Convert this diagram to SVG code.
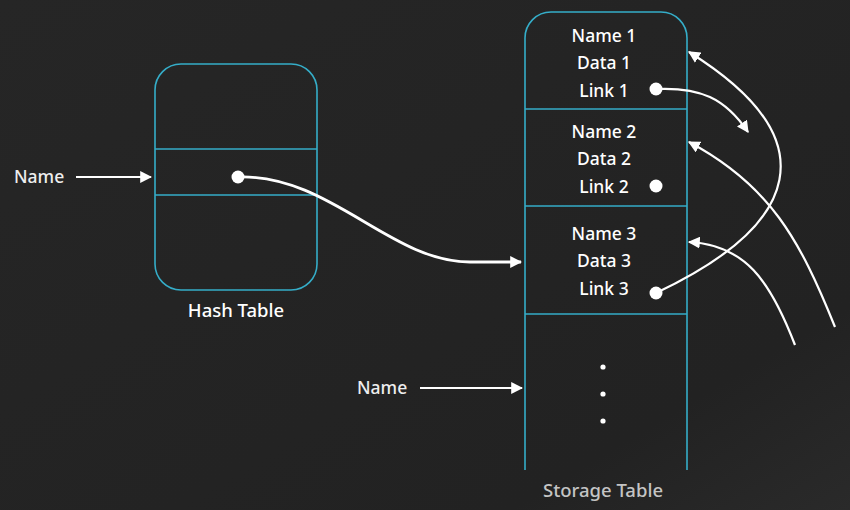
<svg xmlns="http://www.w3.org/2000/svg" width="850" height="510" viewBox="0 0 850 510">
<style>
.box{fill:none;stroke:#35adc8;stroke-width:1.6}
.t{font-family:"Noto Sans","Liberation Sans",sans-serif;font-size:17.5px;font-weight:500;fill:#ffffff;text-anchor:middle}
.lbl{font-family:"Noto Sans","Liberation Sans",sans-serif;font-size:17.5px;font-weight:500;fill:#eeeeee}
.cap{font-family:"Noto Sans","Liberation Sans",sans-serif;font-size:18.5px;font-weight:500;text-anchor:middle}
.c{fill:none;stroke:#ffffff;stroke-width:2.2}
.dot{fill:#ffffff}
</style>
<defs>
<marker id="ah" viewBox="0 0 10 10" refX="9" refY="5" markerWidth="12" markerHeight="12" markerUnits="userSpaceOnUse" orient="auto">
<path d="M0,0 L10,5 L0,10 Z" fill="#ffffff"/>
</marker>
<linearGradient id="bg" x1="0" y1="0" x2="1" y2="1">
<stop offset="0" stop-color="#262626"/>
<stop offset="0.8" stop-color="#222222"/>
<stop offset="1" stop-color="#2a2a2a"/>
</linearGradient>
</defs>
<rect width="850" height="510" fill="url(#bg)"/>
<g id="hash-table">
<rect class="box" x="155" y="64" width="162" height="226" rx="26"/>
<line class="box" x1="155" y1="149" x2="317" y2="149"/>
<line class="box" x1="155" y1="195" x2="317" y2="195"/>
<circle class="dot" cx="238" cy="177" r="6.5"/>
<text class="cap" x="236" y="317" fill="#ffffff">Hash Table</text>
</g>
<g id="storage-table">
<path class="box" d="M525,470 V38 A26,26 0 0 1 551,12 H661 A26,26 0 0 1 687,38 V470"/>
<line class="box" x1="525" y1="109" x2="687" y2="109"/>
<line class="box" x1="525" y1="206" x2="687" y2="206"/>
<line class="box" x1="525" y1="314" x2="687" y2="314"/>
<text class="cap" x="603" y="497" fill="#c4c4c4">Storage Table</text>
</g>
<g id="record-1">
<text class="t" x="604" y="42">Name 1</text>
<text class="t" x="604" y="69">Data 1</text>
<text class="t" x="604" y="97">Link 1</text>
<circle class="dot" cx="656" cy="89" r="6.5"/>
</g>
<g id="record-2">
<text class="t" x="604" y="138">Name 2</text>
<text class="t" x="604" y="165">Data 2</text>
<text class="t" x="604" y="193">Link 2</text>
<circle class="dot" cx="656" cy="186" r="6.5"/>
</g>
<g id="record-3">
<text class="t" x="604" y="240">Name 3</text>
<text class="t" x="604" y="267">Data 3</text>
<text class="t" x="604" y="295">Link 3</text>
<circle class="dot" cx="656" cy="293" r="6.5"/>
</g>
<g id="ellipsis">
<circle class="dot" cx="603" cy="367" r="2.6" fill="#dddddd"/>
<circle class="dot" cx="603" cy="394" r="2.6" fill="#dddddd"/>
<circle class="dot" cx="603" cy="421" r="2.6" fill="#dddddd"/>
</g>
<g id="name-input-1">
<text class="lbl" x="14" y="183">Name</text>
</g>
<g id="name-input-2">
<text class="lbl" x="357" y="394">Name</text>
</g>
<g id="connectors">
<line class="c" x1="76" y1="177" x2="151" y2="177" marker-end="url(#ah)"/>
<line class="c" x1="420" y1="388" x2="522" y2="388" marker-end="url(#ah)"/>
<path class="c" style="stroke-width:2.8" d="M238,177 C330,174 390,262 470,262 L521,262" marker-end="url(#ah)"/>
<path class="c" d="M656,89 C700,87 725,98 748,132" marker-end="url(#ah)"/>
<path class="c" d="M656,293 C800,225 830,140 689,52" marker-end="url(#ah)"/>
<path class="c" d="M835,327 C800,240 770,185 689,142" marker-end="url(#ah)"/>
<path class="c" d="M795,345 C770,280 745,245 689,242" marker-end="url(#ah)"/>
</g>
</svg>
